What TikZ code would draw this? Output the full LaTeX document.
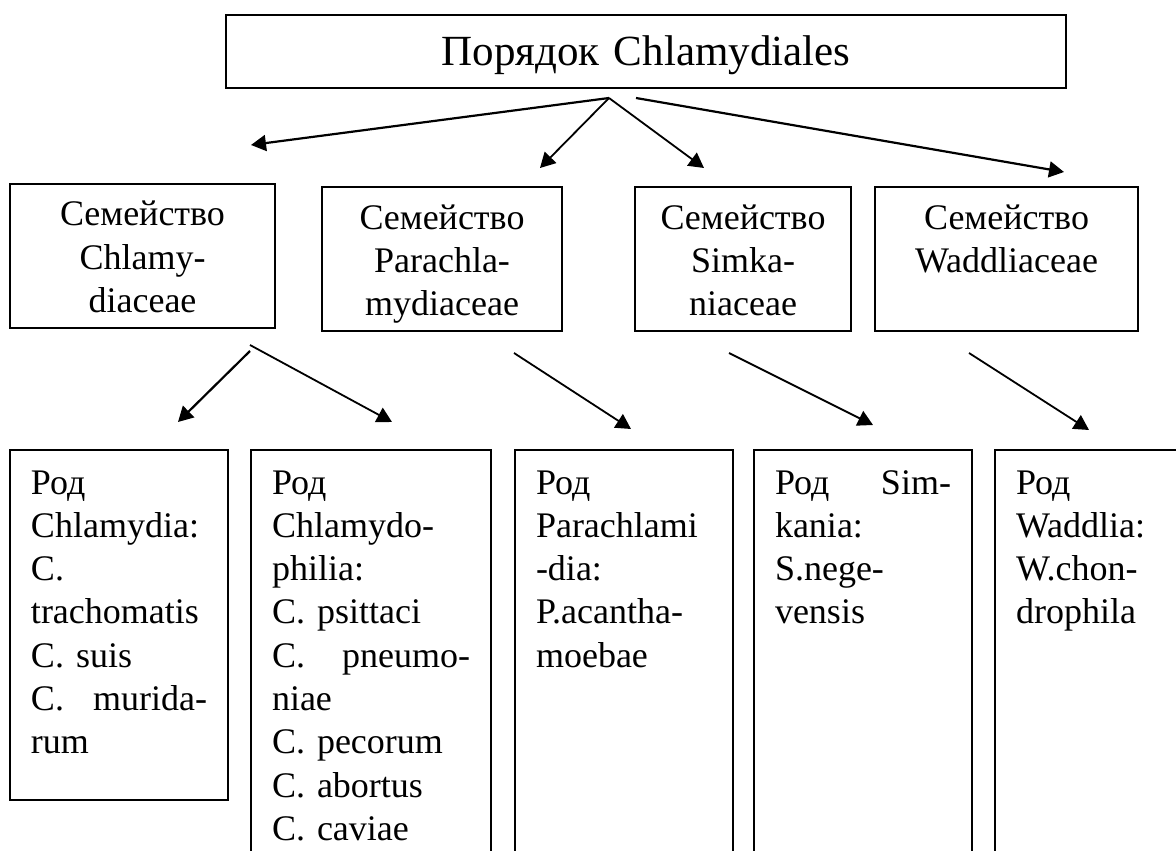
\documentclass[tikz,border=0pt]{standalone}
\usepackage{fontspec}
\setmainfont{Liberation Serif}
\usetikzlibrary{arrows.meta}

\newcommand{\jfill}{\hspace{0pt plus 1filll}}

\tikzset{
  box/.style={draw, line width=1pt, inner sep=0pt, anchor=north west,
    font=\fontsize{18}{21.65}\selectfont},
  famnode/.style={box, align=center, text height=21pt, text depth=51pt},
  rodnode/.style={box, align=left, inner xsep=10.5pt, text width=88pt,
    text height=22pt, text depth=188.5pt},
  arr/.style={-{Triangle[length=7.5pt,width=8pt]}, line width=0.9pt},
}

\begin{document}
\begin{tikzpicture}[x=0.5pt, y=-0.5pt]
        \useasboundingbox (0,0) rectangle (1176,850);
        \clip (0,0) rectangle (1176,850);

        % order
        \node[box, text width=420pt, align=center, text height=25.5pt, text depth=11pt,
          font=\fontsize{21.5}{26}\selectfont] (order) at (225,14) {Порядок Chlamydiales};

        % families
        \node[famnode, text width=132.5pt] (chlamydiaceae) at (9,183) {Семейство\\Chlamy-\\diaceae};
        \node[famnode, text width=120pt] (parachlamydiaceae) at (321,186) {Семейство\\Parachla-\\mydiaceae};
        \node[famnode, text width=108pt] (simkaniaceae) at (634,186) {Семейство\\Simka-\\niaceae};
        \node[famnode, text width=131.5pt] (waddliaceae) at (874,186) {Семейство\\Waddliaceae};

        % genera
        \node[rodnode, text depth=153pt] (chlamydia) at (9,449)
          {Род\\Chlamydia:\\C.\\trachomatis\\C. suis\\C.\jfill murida-\\rum};
        \node[rodnode, text width=99pt] (chlamydophila) at (250,449)
          {Род\\Chlamydo-\\philia:\\C. psittaci\\C.\jfill pneumo-\\niae\\C. pecorum\\C. abortus\\C. caviae};
        \node[rodnode] (parachlamydia) at (514,449)
          {Род\\Parachlami\\-dia:\\P.acantha-\\moebae};
        \node[rodnode] (simkania) at (753,449)
          {Род\jfill Sim-\\kania:\\S.nege-\\vensis};
        \node[rodnode] (waddlia) at (994,449)
          {Род\\Waddlia:\\W.chon-\\drophila};

        % arrows from order
        \coordinate (o1) at (609,98);
        \coordinate (o2) at (636,98);
        \coordinate (f1) at (251,145);
        \coordinate (f2) at (540,168);
        \coordinate (f3) at (704,168);
        \coordinate (f4) at (1064,172);
        \draw[arr, line width=1.1pt] (o1) -- (f1);
        \draw[arr] (o1) -- (f2);
        \draw[arr] (o1) -- (f3);
        \draw[arr, line width=1.1pt] (o2) -- (f4);

        % arrows from families
        \coordinate (s1) at (250,345);
        \coordinate (s1b) at (250,351);
        \coordinate (s2) at (514,353);
        \coordinate (s3) at (729,353);
        \coordinate (s4) at (969,353);
        \coordinate (g1) at (178,422);
        \coordinate (g2) at (392,422);
        \coordinate (g3) at (631,429);
        \coordinate (g4) at (873,425);
        \coordinate (g5) at (1089,430);
        \draw[arr, line width=1.1pt] (s1b) -- (g1);
        \draw[arr] (s1) -- (g2);
        \draw[arr] (s2) -- (g3);
        \draw[arr] (s3) -- (g4);
        \draw[arr] (s4) -- (g5);
\end{tikzpicture}
\end{document}
